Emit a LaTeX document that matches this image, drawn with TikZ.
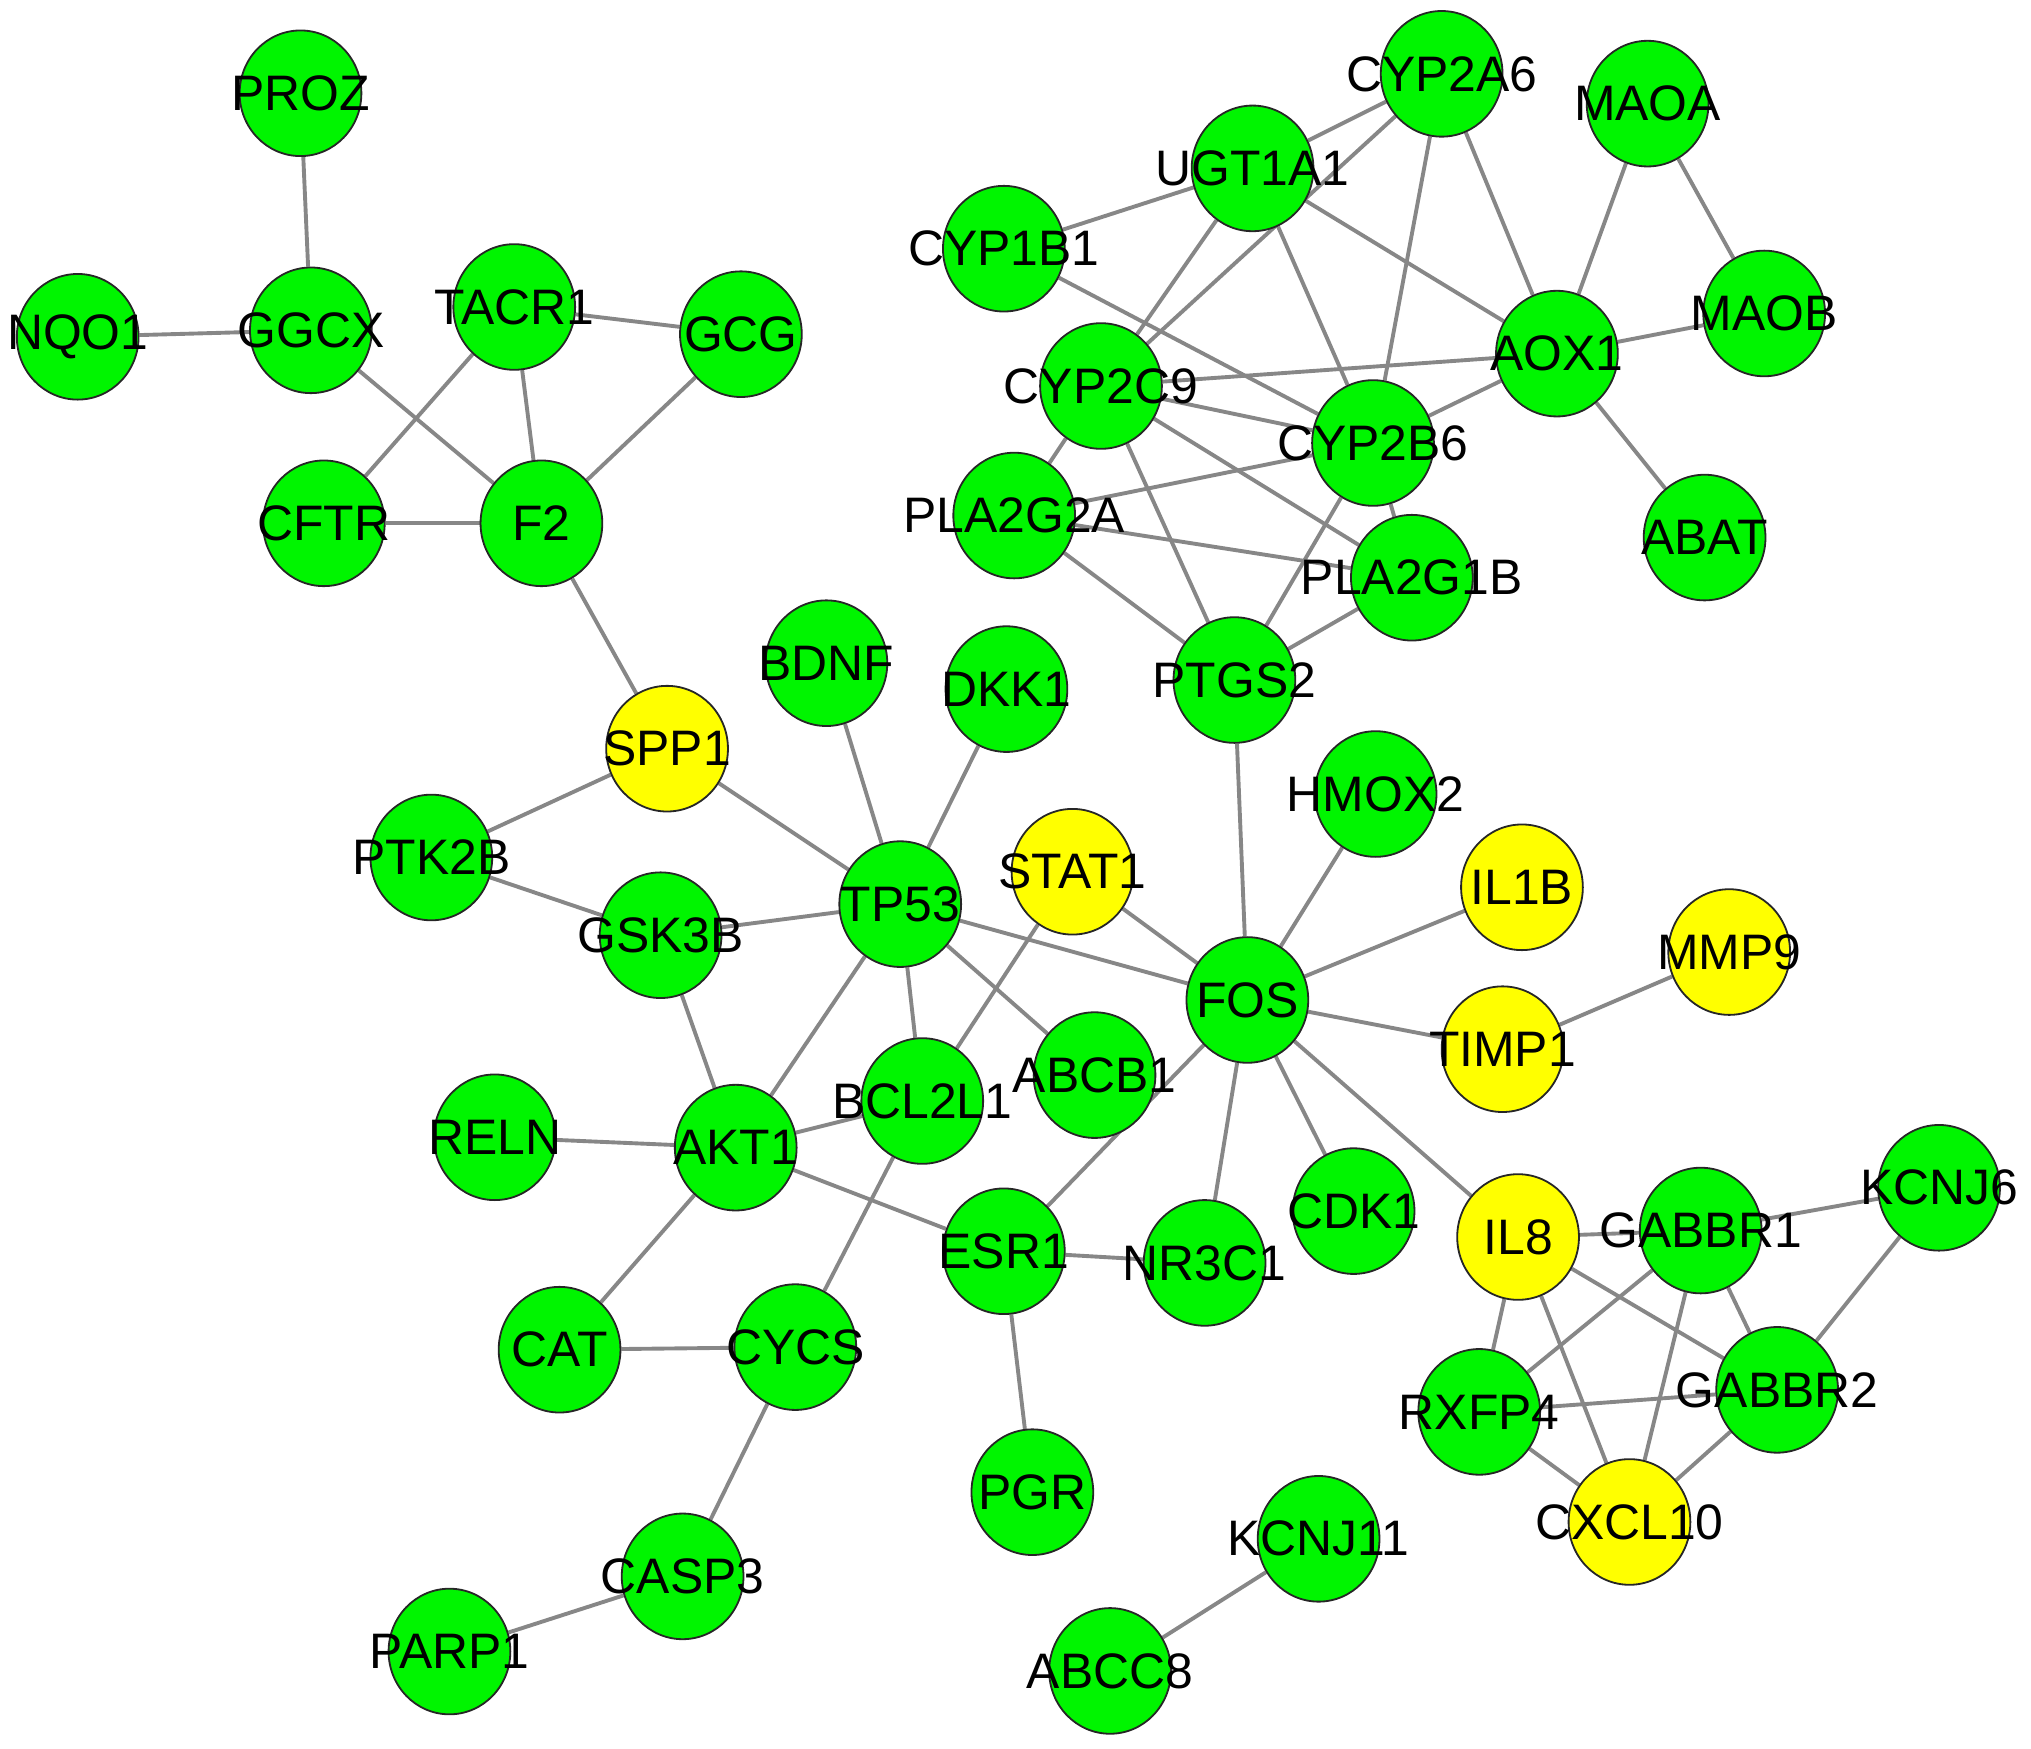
\documentclass[tikz,border=0pt]{standalone}
\usepackage{fontspec}
\setmainfont{Liberation Sans}
\usetikzlibrary{backgrounds, shapes.geometric}
\definecolor{genegreen}{RGB}{0,245,0}
\definecolor{geneyellow}{RGB}{255,255,0}
\definecolor{edgegray}{RGB}{135,135,135}

\begin{document}
\begin{tikzpicture}[
    x=1pt, y=-1pt,
    every node/.style={align=center},
    gene/.style={ellipse, draw=black!85, line width=1.4pt, fill=genegreen,
        minimum width=94pt, minimum height=97pt, inner sep=0pt,
        label={[font=\fontsize{38.5}{40}\selectfont, text=black]center:#1}},
    hub/.style={gene=#1, fill=geneyellow},
    edge/.style={draw=edgegray, line width=3pt}
]
\useasboundingbox (0,0) rectangle (1568,1350);

% Gruppe oben links
\node[gene=PROZ] (proz) at (232,72) {};
\node[gene=NQO1] (nqo1) at (60,260) {};
\node[gene=GGCX] (ggcx) at (240,255) {};
\node[gene=TACR1] (tacr1) at (397,237) {};
\node[gene=GCG] (gcg) at (572,258) {};
\node[gene=CFTR] (cftr) at (250,404) {};
\node[gene=F2] (f2) at (418,404) {};

% Cytochrome oben rechts
\node[gene=CYP2A6] (cyp2a6) at (1113,57) {};
\node[gene=UGT1A1] (ugt1a1) at (967,130) {};
\node[gene=CYP1B1] (cyp1b1) at (775,192) {};
\node[gene=CYP2C9] (cyp2c9) at (850,298) {};
\node[gene=CYP2B6] (cyp2b6) at (1060,342) {};
\node[gene=PLA2G2A] (pla2g2a) at (783,398) {};
\node[gene=PLA2G1B] (pla2g1b) at (1090,446) {};
\node[gene=PTGS2] (ptgs2) at (953,525) {};
\node[gene=MAOA] (maoa) at (1272,80) {};
\node[gene=MAOB] (maob) at (1362,242) {};
\node[gene=AOX1] (aox1) at (1202,273) {};
\node[gene=ABAT] (abat) at (1316,415) {};

% Mitte: TP53 und FOS
\node[hub=SPP1] (spp1) at (515,578) {};
\node[gene=BDNF] (bdnf) at (638,512) {};
\node[gene=DKK1] (dkk1) at (777,532) {};
\node[gene=PTK2B] (ptk2b) at (333,662) {};
\node[gene=GSK3B] (gsk3b) at (510,722) {};
\node[gene=TP53] (tp53) at (695,698) {};
\node[hub=STAT1] (stat1) at (828,673) {};
\node[gene=HMOX2] (hmox2) at (1062,613) {};
\node[hub=IL1B] (il1b) at (1175,685) {};
\node[hub=MMP9] (mmp9) at (1335,735) {};
\node[gene=FOS] (fos) at (963,772) {};
\node[hub=TIMP1] (timp1) at (1160,810) {};
\node[gene=ABCB1] (abcb1) at (845,830) {};
\node[gene=BCL2L1] (bcl2l1) at (712,850) {};
\node[gene=AKT1] (akt1) at (568,886) {};
\node[gene=RELN] (reln) at (382,878) {};
\node[gene=CDK1] (cdk1) at (1045,935) {};
\node[gene=ESR1] (esr1) at (775,966) {};
\node[gene=NR3C1] (nr3c1) at (930,975) {};
\node[gene=CAT] (cat) at (432,1042) {};
\node[gene=CYCS] (cycs) at (614,1040) {};
\node[gene=PGR] (pgr) at (797,1152) {};
\node[gene=CASP3] (casp3) at (527,1217) {};
\node[gene=PARP1] (parp1) at (347,1275) {};
\node[gene=KCNJ11] (kcnj11) at (1018,1188) {};
\node[gene=ABCC8] (abcc8) at (857,1290) {};

% Gruppe unten rechts
\node[hub=IL8] (il8) at (1172,955) {};
\node[gene=GABBR1] (gabbr1) at (1313,950) {};
\node[gene=KCNJ6] (kcnj6) at (1497,917) {};
\node[gene=GABBR2] (gabbr2) at (1372,1073) {};
\node[gene=RXFP4] (rxfp4) at (1142,1090) {};
\node[hub=CXCL10] (cxcl10) at (1258,1175) {};

% Kanten
\begin{scope}[on background layer]
\foreach \a/\b in {proz/ggcx, nqo1/ggcx, ggcx/f2, tacr1/gcg, tacr1/cftr,
    tacr1/f2, gcg/f2, cftr/f2, f2/spp1}
    \draw[edge] (\a) -- (\b);
\foreach \a/\b in {cyp2a6/ugt1a1, cyp2a6/cyp2c9, cyp2a6/cyp2b6, cyp2a6/aox1,
    ugt1a1/cyp1b1, ugt1a1/cyp2c9, ugt1a1/cyp2b6, ugt1a1/aox1,
    cyp1b1/cyp2b6, cyp2c9/cyp2b6, cyp2c9/aox1, cyp2c9/pla2g1b,
    cyp2c9/ptgs2, cyp2c9/pla2g2a, pla2g2a/cyp2b6, pla2g2a/pla2g1b,
    pla2g2a/ptgs2, cyp2b6/ptgs2, cyp2b6/pla2g1b, cyp2b6/aox1,
    pla2g1b/ptgs2, aox1/maoa, aox1/maob, aox1/abat, maoa/maob}
    \draw[edge] (\a) -- (\b);
\foreach \a/\b in {spp1/ptk2b, spp1/tp53, ptk2b/gsk3b, gsk3b/tp53,
    gsk3b/akt1, bdnf/tp53, dkk1/tp53, tp53/fos, tp53/bcl2l1, tp53/abcb1,
    tp53/akt1, stat1/fos, stat1/bcl2l1, reln/akt1, akt1/bcl2l1,
    akt1/esr1, akt1/cat, bcl2l1/cycs, cat/cycs, cycs/casp3,
    casp3/parp1, esr1/nr3c1, esr1/pgr, esr1/fos, fos/nr3c1, fos/cdk1,
    fos/hmox2, fos/il1b, fos/timp1, fos/il8, fos/ptgs2, timp1/mmp9,
    abcc8/kcnj11}
    \draw[edge] (\a) -- (\b);
\foreach \a/\b in {il8/gabbr1, il8/gabbr2, il8/rxfp4, il8/cxcl10,
    gabbr1/kcnj6, gabbr1/rxfp4, gabbr1/gabbr2, gabbr1/cxcl10,
    kcnj6/gabbr2, rxfp4/gabbr2, rxfp4/cxcl10, cxcl10/gabbr2}
    \draw[edge] (\a) -- (\b);
\end{scope}

\end{tikzpicture}
\end{document}
